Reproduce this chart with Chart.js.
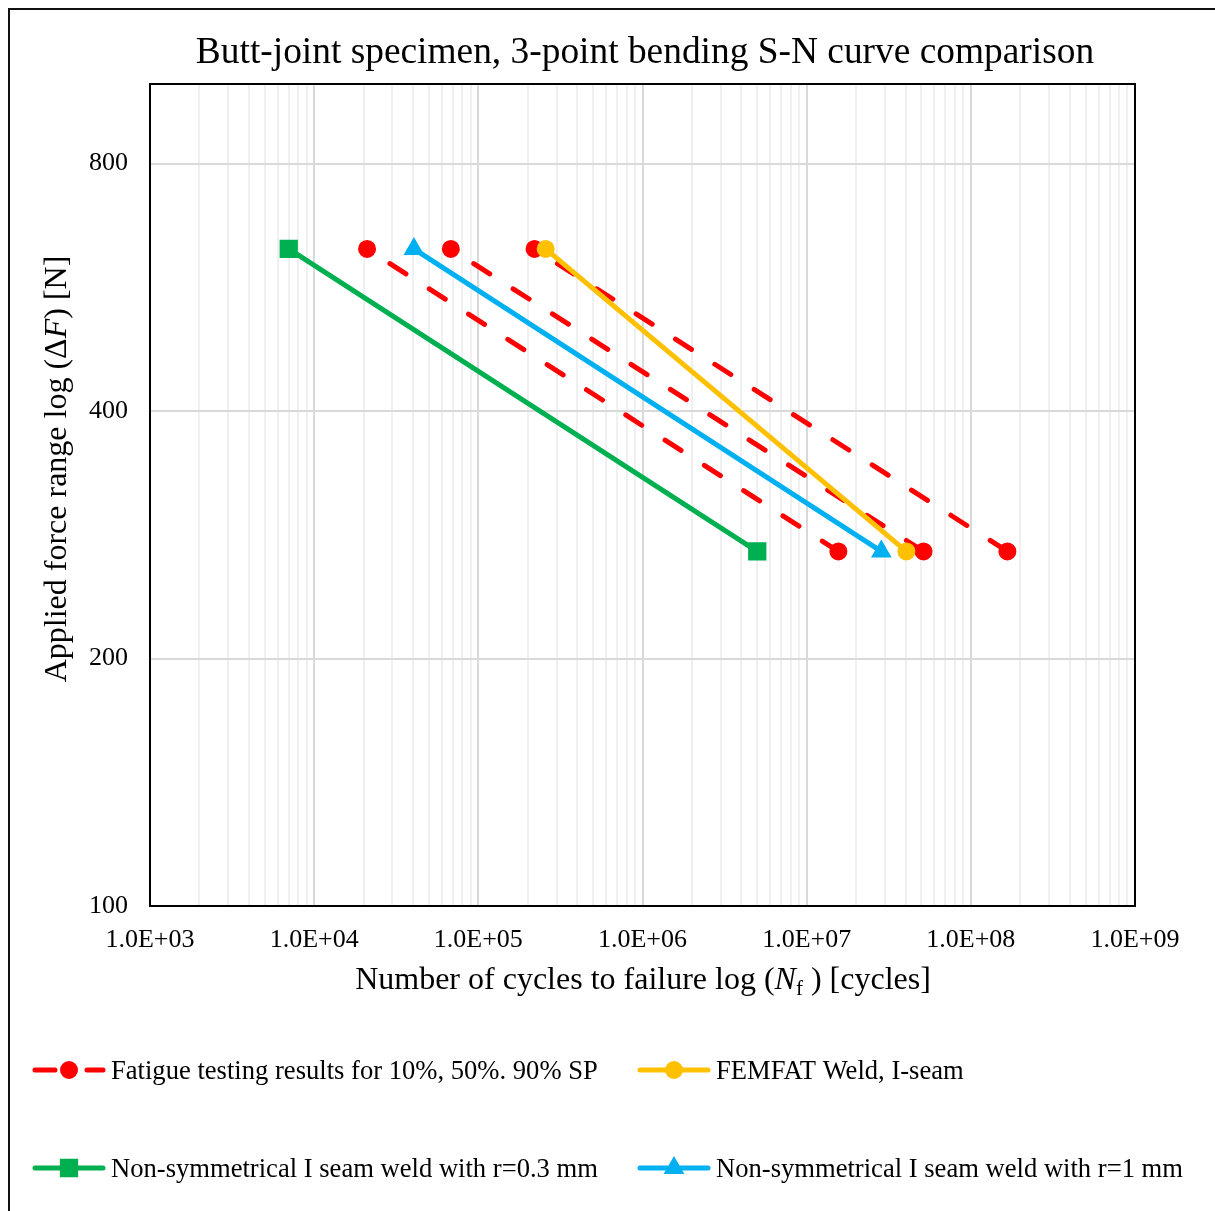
<!DOCTYPE html>
<html>
<head>
<meta charset="utf-8">
<script src="https://cdn.jsdelivr.net/npm/chart.js@4.4.1/dist/chart.umd.min.js"></script>
<style>
    html, body { margin: 0; padding: 0; background: #fff; }
    canvas { display: block; }
</style>
</head>
<body>
<canvas id="chart" width="1215" height="1211"></canvas>
<script>
// force range levels of both ends of each S-N line [N]
const forceLevels = [630, 270];

// cycles to failure at those levels
const fatigue10 = [2.1e4, 1.56e7];
const fatigue50 = [6.8e4, 5.15e7];
const fatigue90 = [2.2e5, 1.67e8];
const femfatWeld = [2.57e5, 4.05e7];
const seamR03 = [7.0e3, 5.0e6];
const seamR1 = [4.05e4, 2.85e7];

const xDecades = [1e3, 1e4, 1e5, 1e6, 1e7, 1e8, 1e9];
const yTicks = [100, 200, 400, 800];

const legendNames = [
    "Fatigue testing results for 10%, 50%. 90% SP",
    "FEMFAT Weld, I-seam",
    "Non-symmetrical I seam weld with r=0.3 mm",
    "Non-symmetrical I seam weld with r=1 mm"
];

const RED = "#ff0000", YELLOW = "#ffc000", GREEN = "#00b050", BLUE = "#00b0f0";
const SERIF = "'Liberation Serif', 'Times New Roman', serif";

function toPoints(cycles) {
    return cycles.map((n, i) => ({x: n, y: forceLevels[i]}));
}

function sciLabel(v) {
    let exp = Math.round(Math.log10(v));
    return "1.0E+" + (exp < 10 ? "0" + exp : exp);
}

function isDecade(v) {
    let l = Math.log10(v);
    return Math.abs(l - Math.round(l)) < 1e-9;
}

// all x ticks, decades plus 2..9 minor ones
let xAllTicks = [];
xDecades.forEach((d, i) => {
    xAllTicks.push(d);
    if (i < xDecades.length - 1) {
        for (let k = 2; k < 10; k++) xAllTicks.push(d * k);
    }
});

function redSet(cycles) {
    return {
        data: toPoints(cycles),
        borderColor: RED,
        backgroundColor: RED,
        borderWidth: 5,
        borderDash: [19, 27.7],
        borderDashOffset: 19.5,
        borderCapStyle: "round",
        pointStyle: "circle",
        pointRadius: 8,
        pointBorderWidth: 2,
        order: 1
    };
}

function solidSet(cycles, color, style, radius) {
    return {
        data: toPoints(cycles),
        borderColor: color,
        backgroundColor: color,
        borderWidth: 5,
        borderCapStyle: "round",
        pointStyle: style,
        pointRadius: radius,
        pointBorderWidth: 2,
        order: 0
    };
}

const datasets = [
    redSet(fatigue10),
    redSet(fatigue50),
    redSet(fatigue90),
    solidSet(femfatWeld, YELLOW, "circle", 8),
    solidSet(seamR03, GREEN, "rect", 11.5),
    solidSet(seamR1, BLUE, "triangle", 10)
];

// dataset index that each legend row takes its style from
const legendSource = [0, 3, 4, 5];
const legendPos = [[33, 1070], [638, 1070], [33, 1168], [638, 1168]];

function richText(ctx, parts, x, y, align) {
    let total = 0;
    parts.forEach(p => {
        ctx.font = p.font;
        p.w = ctx.measureText(p.text).width;
        total += p.w;
    });
    let cx = align === "center" ? x - total / 2 : x;
    parts.forEach(p => {
        ctx.font = p.font;
        ctx.fillText(p.text, cx, y + (p.dy || 0));
        cx += p.w;
    });
}

const decorations = {
    id: "decorations",
    beforeDraw(chart) {
        let ctx = chart.ctx;
        ctx.save();
        ctx.fillStyle = "#fff";
        ctx.fillRect(0, 0, chart.width, chart.height);
        ctx.restore();
    },
    beforeDatasetsDraw(chart) {
        let ctx = chart.ctx, a = chart.chartArea;
        ctx.save();
        ctx.strokeStyle = "#000";
        ctx.lineWidth = 2;
        ctx.strokeRect(a.left, a.top, a.right - a.left, a.bottom - a.top);
        ctx.restore();
    },
    afterDraw(chart) {
        let ctx = chart.ctx;
        ctx.save();

        // outer frame of the chart object
        ctx.strokeStyle = "#111";
        ctx.lineWidth = 2;
        ctx.beginPath();
        ctx.moveTo(9, chart.height);
        ctx.lineTo(9, 9);
        ctx.lineTo(chart.width, 9);
        ctx.stroke();

        ctx.fillStyle = "#000";
        ctx.textBaseline = "alphabetic";

        // main title
        richText(ctx, [{text: "Butt-joint specimen, 3-point bending S-N curve comparison", font: "37.4px " + SERIF}], 645, 63, "center");

        // x axis title
        let f = "32px " + SERIF, fi = "italic 32px " + SERIF, fs = "21px " + SERIF;
        richText(ctx, [
            {text: "Number of cycles to failure log (", font: f},
            {text: "N", font: fi},
            {text: "f", font: fs, dy: 6},
            {text: " ) [cycles]", font: f}
        ], 643, 989, "center");

        // y axis title
        ctx.save();
        ctx.translate(66, 469);
        ctx.rotate(-Math.PI / 2);
        richText(ctx, [
            {text: "Applied force range log (\u0394", font: f},
            {text: "F", font: fi},
            {text: ") [N]", font: f}
        ], 0, 0, "center");
        ctx.restore();

        // legend, two columns
        legendSource.forEach((dsIndex, i) => {
            let ds = datasets[dsIndex];
            let [lx, ly] = legendPos[i];
            ctx.save();
            ctx.strokeStyle = ds.borderColor;
            ctx.lineWidth = ds.borderWidth;
            ctx.lineCap = "round";
            ctx.setLineDash(ds.borderDash ? [20, 32] : []);
            ctx.beginPath();
            ctx.moveTo(lx + 2, ly);
            ctx.lineTo(lx + 70, ly);
            ctx.stroke();
            ctx.setLineDash([]);
            ctx.fillStyle = ds.backgroundColor;
            ctx.lineWidth = ds.pointBorderWidth;
            Chart.helpers.drawPoint(ctx, {
                pointStyle: ds.pointStyle,
                radius: ds.pointRadius,
                rotation: 0,
                borderWidth: ds.pointBorderWidth
            }, lx + 36, ly);
            ctx.restore();
            ctx.font = "26.6px " + SERIF;
            ctx.fillText(legendNames[i], lx + 78, ly + 9);
        });

        ctx.restore();
    }
};

new Chart(document.getElementById("chart"), {
    type: "scatter",
    data: {datasets: datasets},
    options: {
        responsive: false,
        animation: false,
        devicePixelRatio: 1,
        showLine: true,
        layout: {padding: {left: 0, top: 84, right: 80, bottom: 245}},
        plugins: {
            legend: {display: false},
            tooltip: {enabled: false},
            title: {display: false}
        },
        scales: {
            x: {
                type: "logarithmic",
                min: 1e3,
                max: 1e9,
                afterBuildTicks: scale => {
                    scale.ticks = xAllTicks.map(v => ({value: v}));
                },
                afterFit: scale => { scale.height = 60; },
                border: {display: false},
                grid: {
                    drawTicks: false,
                    lineWidth: 2,
                    color: c => (c.tick && isDecade(c.tick.value)) ? "#d9d9d9" : "#f0f0f0"
                },
                ticks: {
                    autoSkip: false,
                    maxRotation: 0,
                    minRotation: 0,
                    padding: 19,
                    color: "#000",
                    font: {family: SERIF, size: 26},
                    callback: v => isDecade(v) ? sciLabel(v) : ""
                }
            },
            y: {
                type: "logarithmic",
                min: 100,
                max: 1000,
                afterBuildTicks: scale => {
                    scale.ticks = yTicks.map(v => ({value: v}));
                },
                afterFit: scale => { scale.width = 150; },
                border: {display: false},
                grid: {
                    drawTicks: false,
                    lineWidth: 2,
                    color: "#d9d9d9"
                },
                ticks: {
                    padding: 22,
                    color: "#000",
                    font: {family: SERIF, size: 26},
                    callback: v => String(v)
                }
            }
        }
    },
    plugins: [decorations]
});
</script>
</body>
</html>
